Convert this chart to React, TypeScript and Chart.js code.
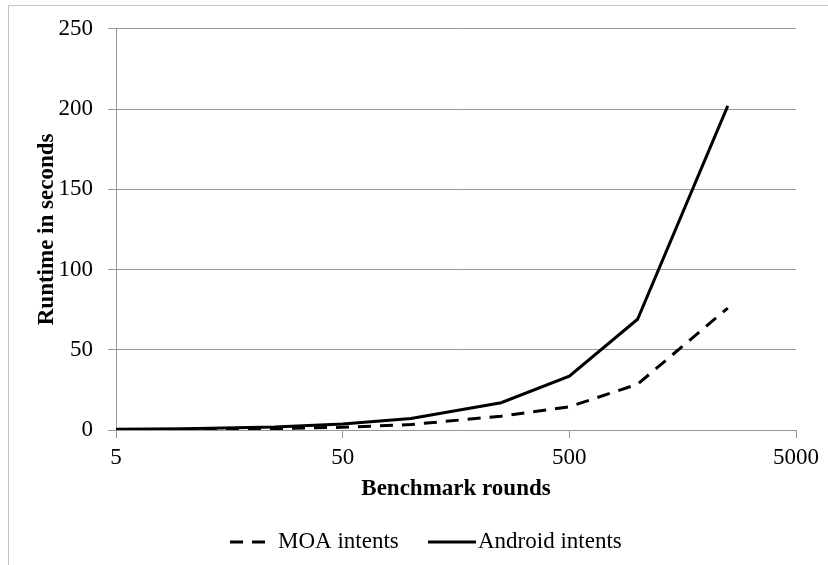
import React, { useEffect, useRef } from "react";
import { Chart, registerables } from "chart.js";

Chart.register(...registerables);

const benchmarkRounds = [5, 10, 25, 50, 100, 250, 500, 1000, 2500];
const moaIntents = [0.2, 0.4, 0.9, 1.7, 3.4, 8.6, 14.5, 28.5, 76];
const androidIntents = [0.4, 0.8, 1.9, 3.8, 7.2, 17, 33.5, 69, 202];
const xTickValues = [5, 50, 500, 5000];
const seriesLabels = ["MOA intents", "Android intents"];
const xTitle = "Benchmark rounds";
const yTitle = "Runtime in seconds";

const FONT = "'Liberation Serif', 'Times New Roman', serif";
const GRID = "#979797";
const MOA_DASH = [13, 9];

const frameAndLegend = {
  id: "frameAndLegend",
  beforeDraw(chart: any) {
    const ctx = chart.ctx;
    ctx.save();
    ctx.strokeStyle = "#c4c4c4";
    ctx.lineWidth = 1;
    ctx.beginPath();
    ctx.moveTo(8.5, 565);
    ctx.lineTo(8.5, 5.5);
    ctx.lineTo(828, 5.5);
    ctx.stroke();
    ctx.restore();
  },
  afterDraw(chart: any) {
    const ctx = chart.ctx;
    const y = 542;
    ctx.save();
    ctx.strokeStyle = "#000";
    ctx.lineWidth = 3;
    ctx.setLineDash(MOA_DASH);
    ctx.beginPath();
    ctx.moveTo(230, y);
    ctx.lineTo(270, y);
    ctx.stroke();
    ctx.setLineDash([]);
    ctx.beginPath();
    ctx.moveTo(428, y);
    ctx.lineTo(476, y);
    ctx.stroke();
    ctx.fillStyle = "#000";
    ctx.font = `23px ${FONT}`;
    ctx.textBaseline = "middle";
    ctx.textAlign = "left";
    ctx.fillText(seriesLabels[0], 278, y);
    ctx.fillText(seriesLabels[1], 478, y);
    ctx.restore();
  },
};

export default function App() {
  const ref = useRef<HTMLCanvasElement | null>(null);
  useEffect(() => {
    if (!ref.current) return;
    const chart = new Chart(ref.current, {
      type: "line",
      data: {
        datasets: [
          {
            label: seriesLabels[0],
            data: benchmarkRounds.map((x, i) => ({ x, y: moaIntents[i] })),
            borderColor: "#000",
            borderWidth: 3,
            borderDash: MOA_DASH,
            pointRadius: 0,
            tension: 0,
            fill: false,
          },
          {
            label: seriesLabels[1],
            data: benchmarkRounds.map((x, i) => ({ x, y: androidIntents[i] })),
            borderColor: "#000",
            borderWidth: 3,
            pointRadius: 0,
            tension: 0,
            fill: false,
          },
        ],
      },
      options: {
        animation: false,
        responsive: false,
        layout: { padding: { left: 0, top: 25, right: 32, bottom: 0 } },
        plugins: { legend: { display: false }, tooltip: { enabled: false } },
        scales: {
          x: {
            type: "logarithmic",
            min: 5,
            max: 5000,
            afterBuildTicks: (scale: any) => {
              scale.ticks = xTickValues.map((v) => ({ value: v }));
            },
            afterFit: (scale: any) => {
              scale.height = 135;
            },
            grid: { drawOnChartArea: false, drawTicks: true, tickLength: 8, color: GRID },
            border: { display: true, color: GRID, width: 1 },
            ticks: {
              color: "#000",
              font: { family: FONT, size: 23 },
              padding: 6,
              maxRotation: 0,
              autoSkip: false,
              callback: (v: any) => String(v),
            },
            title: {
              display: true,
              text: xTitle,
              color: "#000",
              font: { family: FONT, size: 23, weight: "bold" },
              padding: { top: 0, bottom: 62 },
            },
          },
          y: {
            type: "linear",
            min: 0,
            max: 250,
            afterFit: (scale: any) => {
              scale.width = 116;
            },
            grid: { color: GRID, tickLength: 8 },
            border: { display: true, color: GRID, width: 1 },
            ticks: {
              stepSize: 50,
              color: "#000",
              font: { family: FONT, size: 23 },
              padding: 15,
            },
            title: {
              display: true,
              text: yTitle,
              color: "#000",
              font: { family: FONT, size: 23, weight: "bold" },
              padding: { top: 33, bottom: 0 },
            },
          },
        },
      },
      plugins: [frameAndLegend],
    });
    return () => chart.destroy();
  }, []);
  return (
    <div style={{ position: "absolute", left: 0, top: 0, width: 828, height: 565 }}>
      <canvas ref={ref} width={828} height={565} style={{ display: "block" }} />
    </div>
  );
}
